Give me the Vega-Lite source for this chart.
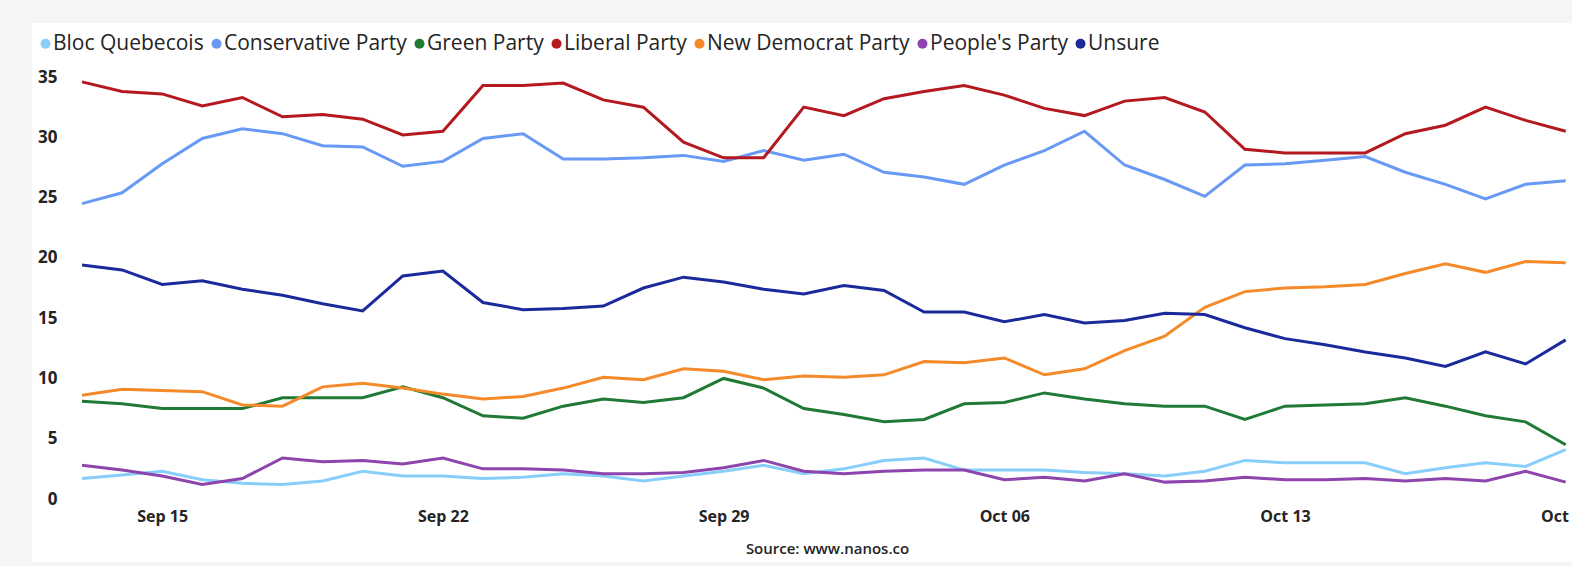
{
"$schema":"https://vega.github.io/schema/vega-lite/v6.json",
"width":1540,"height":539,
"autosize":{"type":"none"},
"padding":{"left":32,"top":23,"right":0,"bottom":4},
"background":"#f5f5f5",
"config":{"view":{"stroke":null,"fill":"#ffffff"},"font":"Open Sans"},
"data":{"format":{"parse":{"date":"utc:'%Y-%m-%d'"}},"values":[
{"date":"2019-09-13","party":"Bloc Quebecois","value":1.7},{"date":"2019-09-13","party":"Conservative Party","value":24.5},{"date":"2019-09-13","party":"Green Party","value":8.1},{"date":"2019-09-13","party":"Liberal Party","value":34.6},{"date":"2019-09-13","party":"New Democrat Party","value":8.6},{"date":"2019-09-13","party":"People's Party","value":2.8},{"date":"2019-09-13","party":"Unsure","value":19.4},
{"date":"2019-09-14","party":"Bloc Quebecois","value":2.0},{"date":"2019-09-14","party":"Conservative Party","value":25.4},{"date":"2019-09-14","party":"Green Party","value":7.9},{"date":"2019-09-14","party":"Liberal Party","value":33.8},{"date":"2019-09-14","party":"New Democrat Party","value":9.1},{"date":"2019-09-14","party":"People's Party","value":2.4},{"date":"2019-09-14","party":"Unsure","value":19.0},
{"date":"2019-09-15","party":"Bloc Quebecois","value":2.3},{"date":"2019-09-15","party":"Conservative Party","value":27.8},{"date":"2019-09-15","party":"Green Party","value":7.5},{"date":"2019-09-15","party":"Liberal Party","value":33.6},{"date":"2019-09-15","party":"New Democrat Party","value":9.0},{"date":"2019-09-15","party":"People's Party","value":1.9},{"date":"2019-09-15","party":"Unsure","value":17.8},
{"date":"2019-09-16","party":"Bloc Quebecois","value":1.6},{"date":"2019-09-16","party":"Conservative Party","value":29.9},{"date":"2019-09-16","party":"Green Party","value":7.5},{"date":"2019-09-16","party":"Liberal Party","value":32.6},{"date":"2019-09-16","party":"New Democrat Party","value":8.9},{"date":"2019-09-16","party":"People's Party","value":1.2},{"date":"2019-09-16","party":"Unsure","value":18.1},
{"date":"2019-09-17","party":"Bloc Quebecois","value":1.3},{"date":"2019-09-17","party":"Conservative Party","value":30.7},{"date":"2019-09-17","party":"Green Party","value":7.5},{"date":"2019-09-17","party":"Liberal Party","value":33.3},{"date":"2019-09-17","party":"New Democrat Party","value":7.8},{"date":"2019-09-17","party":"People's Party","value":1.7},{"date":"2019-09-17","party":"Unsure","value":17.4},
{"date":"2019-09-18","party":"Bloc Quebecois","value":1.2},{"date":"2019-09-18","party":"Conservative Party","value":30.3},{"date":"2019-09-18","party":"Green Party","value":8.4},{"date":"2019-09-18","party":"Liberal Party","value":31.7},{"date":"2019-09-18","party":"New Democrat Party","value":7.7},{"date":"2019-09-18","party":"People's Party","value":3.4},{"date":"2019-09-18","party":"Unsure","value":16.9},
{"date":"2019-09-19","party":"Bloc Quebecois","value":1.5},{"date":"2019-09-19","party":"Conservative Party","value":29.3},{"date":"2019-09-19","party":"Green Party","value":8.4},{"date":"2019-09-19","party":"Liberal Party","value":31.9},{"date":"2019-09-19","party":"New Democrat Party","value":9.3},{"date":"2019-09-19","party":"People's Party","value":3.1},{"date":"2019-09-19","party":"Unsure","value":16.2},
{"date":"2019-09-20","party":"Bloc Quebecois","value":2.3},{"date":"2019-09-20","party":"Conservative Party","value":29.2},{"date":"2019-09-20","party":"Green Party","value":8.4},{"date":"2019-09-20","party":"Liberal Party","value":31.5},{"date":"2019-09-20","party":"New Democrat Party","value":9.6},{"date":"2019-09-20","party":"People's Party","value":3.2},{"date":"2019-09-20","party":"Unsure","value":15.6},
{"date":"2019-09-21","party":"Bloc Quebecois","value":1.9},{"date":"2019-09-21","party":"Conservative Party","value":27.6},{"date":"2019-09-21","party":"Green Party","value":9.3},{"date":"2019-09-21","party":"Liberal Party","value":30.2},{"date":"2019-09-21","party":"New Democrat Party","value":9.2},{"date":"2019-09-21","party":"People's Party","value":2.9},{"date":"2019-09-21","party":"Unsure","value":18.5},
{"date":"2019-09-22","party":"Bloc Quebecois","value":1.9},{"date":"2019-09-22","party":"Conservative Party","value":28.0},{"date":"2019-09-22","party":"Green Party","value":8.4},{"date":"2019-09-22","party":"Liberal Party","value":30.5},{"date":"2019-09-22","party":"New Democrat Party","value":8.7},{"date":"2019-09-22","party":"People's Party","value":3.4},{"date":"2019-09-22","party":"Unsure","value":18.9},
{"date":"2019-09-23","party":"Bloc Quebecois","value":1.7},{"date":"2019-09-23","party":"Conservative Party","value":29.9},{"date":"2019-09-23","party":"Green Party","value":6.9},{"date":"2019-09-23","party":"Liberal Party","value":34.3},{"date":"2019-09-23","party":"New Democrat Party","value":8.3},{"date":"2019-09-23","party":"People's Party","value":2.5},{"date":"2019-09-23","party":"Unsure","value":16.3},
{"date":"2019-09-24","party":"Bloc Quebecois","value":1.8},{"date":"2019-09-24","party":"Conservative Party","value":30.3},{"date":"2019-09-24","party":"Green Party","value":6.7},{"date":"2019-09-24","party":"Liberal Party","value":34.3},{"date":"2019-09-24","party":"New Democrat Party","value":8.5},{"date":"2019-09-24","party":"People's Party","value":2.5},{"date":"2019-09-24","party":"Unsure","value":15.7},
{"date":"2019-09-25","party":"Bloc Quebecois","value":2.1},{"date":"2019-09-25","party":"Conservative Party","value":28.2},{"date":"2019-09-25","party":"Green Party","value":7.7},{"date":"2019-09-25","party":"Liberal Party","value":34.5},{"date":"2019-09-25","party":"New Democrat Party","value":9.2},{"date":"2019-09-25","party":"People's Party","value":2.4},{"date":"2019-09-25","party":"Unsure","value":15.8},
{"date":"2019-09-26","party":"Bloc Quebecois","value":1.9},{"date":"2019-09-26","party":"Conservative Party","value":28.2},{"date":"2019-09-26","party":"Green Party","value":8.3},{"date":"2019-09-26","party":"Liberal Party","value":33.1},{"date":"2019-09-26","party":"New Democrat Party","value":10.1},{"date":"2019-09-26","party":"People's Party","value":2.1},{"date":"2019-09-26","party":"Unsure","value":16.0},
{"date":"2019-09-27","party":"Bloc Quebecois","value":1.5},{"date":"2019-09-27","party":"Conservative Party","value":28.3},{"date":"2019-09-27","party":"Green Party","value":8.0},{"date":"2019-09-27","party":"Liberal Party","value":32.5},{"date":"2019-09-27","party":"New Democrat Party","value":9.9},{"date":"2019-09-27","party":"People's Party","value":2.1},{"date":"2019-09-27","party":"Unsure","value":17.5},
{"date":"2019-09-28","party":"Bloc Quebecois","value":1.9},{"date":"2019-09-28","party":"Conservative Party","value":28.5},{"date":"2019-09-28","party":"Green Party","value":8.4},{"date":"2019-09-28","party":"Liberal Party","value":29.6},{"date":"2019-09-28","party":"New Democrat Party","value":10.8},{"date":"2019-09-28","party":"People's Party","value":2.2},{"date":"2019-09-28","party":"Unsure","value":18.4},
{"date":"2019-09-29","party":"Bloc Quebecois","value":2.3},{"date":"2019-09-29","party":"Conservative Party","value":28.0},{"date":"2019-09-29","party":"Green Party","value":10.0},{"date":"2019-09-29","party":"Liberal Party","value":28.3},{"date":"2019-09-29","party":"New Democrat Party","value":10.6},{"date":"2019-09-29","party":"People's Party","value":2.6},{"date":"2019-09-29","party":"Unsure","value":18.0},
{"date":"2019-09-30","party":"Bloc Quebecois","value":2.8},{"date":"2019-09-30","party":"Conservative Party","value":28.9},{"date":"2019-09-30","party":"Green Party","value":9.2},{"date":"2019-09-30","party":"Liberal Party","value":28.3},{"date":"2019-09-30","party":"New Democrat Party","value":9.9},{"date":"2019-09-30","party":"People's Party","value":3.2},{"date":"2019-09-30","party":"Unsure","value":17.4},
{"date":"2019-10-01","party":"Bloc Quebecois","value":2.1},{"date":"2019-10-01","party":"Conservative Party","value":28.1},{"date":"2019-10-01","party":"Green Party","value":7.5},{"date":"2019-10-01","party":"Liberal Party","value":32.5},{"date":"2019-10-01","party":"New Democrat Party","value":10.2},{"date":"2019-10-01","party":"People's Party","value":2.3},{"date":"2019-10-01","party":"Unsure","value":17.0},
{"date":"2019-10-02","party":"Bloc Quebecois","value":2.5},{"date":"2019-10-02","party":"Conservative Party","value":28.6},{"date":"2019-10-02","party":"Green Party","value":7.0},{"date":"2019-10-02","party":"Liberal Party","value":31.8},{"date":"2019-10-02","party":"New Democrat Party","value":10.1},{"date":"2019-10-02","party":"People's Party","value":2.1},{"date":"2019-10-02","party":"Unsure","value":17.7},
{"date":"2019-10-03","party":"Bloc Quebecois","value":3.2},{"date":"2019-10-03","party":"Conservative Party","value":27.1},{"date":"2019-10-03","party":"Green Party","value":6.4},{"date":"2019-10-03","party":"Liberal Party","value":33.2},{"date":"2019-10-03","party":"New Democrat Party","value":10.3},{"date":"2019-10-03","party":"People's Party","value":2.3},{"date":"2019-10-03","party":"Unsure","value":17.3},
{"date":"2019-10-04","party":"Bloc Quebecois","value":3.4},{"date":"2019-10-04","party":"Conservative Party","value":26.7},{"date":"2019-10-04","party":"Green Party","value":6.6},{"date":"2019-10-04","party":"Liberal Party","value":33.8},{"date":"2019-10-04","party":"New Democrat Party","value":11.4},{"date":"2019-10-04","party":"People's Party","value":2.4},{"date":"2019-10-04","party":"Unsure","value":15.5},
{"date":"2019-10-05","party":"Bloc Quebecois","value":2.4},{"date":"2019-10-05","party":"Conservative Party","value":26.1},{"date":"2019-10-05","party":"Green Party","value":7.9},{"date":"2019-10-05","party":"Liberal Party","value":34.3},{"date":"2019-10-05","party":"New Democrat Party","value":11.3},{"date":"2019-10-05","party":"People's Party","value":2.4},{"date":"2019-10-05","party":"Unsure","value":15.5},
{"date":"2019-10-06","party":"Bloc Quebecois","value":2.4},{"date":"2019-10-06","party":"Conservative Party","value":27.7},{"date":"2019-10-06","party":"Green Party","value":8.0},{"date":"2019-10-06","party":"Liberal Party","value":33.5},{"date":"2019-10-06","party":"New Democrat Party","value":11.7},{"date":"2019-10-06","party":"People's Party","value":1.6},{"date":"2019-10-06","party":"Unsure","value":14.7},
{"date":"2019-10-07","party":"Bloc Quebecois","value":2.4},{"date":"2019-10-07","party":"Conservative Party","value":28.9},{"date":"2019-10-07","party":"Green Party","value":8.8},{"date":"2019-10-07","party":"Liberal Party","value":32.4},{"date":"2019-10-07","party":"New Democrat Party","value":10.3},{"date":"2019-10-07","party":"People's Party","value":1.8},{"date":"2019-10-07","party":"Unsure","value":15.3},
{"date":"2019-10-08","party":"Bloc Quebecois","value":2.2},{"date":"2019-10-08","party":"Conservative Party","value":30.5},{"date":"2019-10-08","party":"Green Party","value":8.3},{"date":"2019-10-08","party":"Liberal Party","value":31.8},{"date":"2019-10-08","party":"New Democrat Party","value":10.8},{"date":"2019-10-08","party":"People's Party","value":1.5},{"date":"2019-10-08","party":"Unsure","value":14.6},
{"date":"2019-10-09","party":"Bloc Quebecois","value":2.1},{"date":"2019-10-09","party":"Conservative Party","value":27.7},{"date":"2019-10-09","party":"Green Party","value":7.9},{"date":"2019-10-09","party":"Liberal Party","value":33.0},{"date":"2019-10-09","party":"New Democrat Party","value":12.3},{"date":"2019-10-09","party":"People's Party","value":2.1},{"date":"2019-10-09","party":"Unsure","value":14.8},
{"date":"2019-10-10","party":"Bloc Quebecois","value":1.9},{"date":"2019-10-10","party":"Conservative Party","value":26.5},{"date":"2019-10-10","party":"Green Party","value":7.7},{"date":"2019-10-10","party":"Liberal Party","value":33.3},{"date":"2019-10-10","party":"New Democrat Party","value":13.5},{"date":"2019-10-10","party":"People's Party","value":1.4},{"date":"2019-10-10","party":"Unsure","value":15.4},
{"date":"2019-10-11","party":"Bloc Quebecois","value":2.3},{"date":"2019-10-11","party":"Conservative Party","value":25.1},{"date":"2019-10-11","party":"Green Party","value":7.7},{"date":"2019-10-11","party":"Liberal Party","value":32.1},{"date":"2019-10-11","party":"New Democrat Party","value":15.9},{"date":"2019-10-11","party":"People's Party","value":1.5},{"date":"2019-10-11","party":"Unsure","value":15.3},
{"date":"2019-10-12","party":"Bloc Quebecois","value":3.2},{"date":"2019-10-12","party":"Conservative Party","value":27.7},{"date":"2019-10-12","party":"Green Party","value":6.6},{"date":"2019-10-12","party":"Liberal Party","value":29.0},{"date":"2019-10-12","party":"New Democrat Party","value":17.2},{"date":"2019-10-12","party":"People's Party","value":1.8},{"date":"2019-10-12","party":"Unsure","value":14.2},
{"date":"2019-10-13","party":"Bloc Quebecois","value":3.0},{"date":"2019-10-13","party":"Conservative Party","value":27.8},{"date":"2019-10-13","party":"Green Party","value":7.7},{"date":"2019-10-13","party":"Liberal Party","value":28.7},{"date":"2019-10-13","party":"New Democrat Party","value":17.5},{"date":"2019-10-13","party":"People's Party","value":1.6},{"date":"2019-10-13","party":"Unsure","value":13.3},
{"date":"2019-10-14","party":"Bloc Quebecois","value":3.0},{"date":"2019-10-14","party":"Conservative Party","value":28.1},{"date":"2019-10-14","party":"Green Party","value":7.8},{"date":"2019-10-14","party":"Liberal Party","value":28.7},{"date":"2019-10-14","party":"New Democrat Party","value":17.6},{"date":"2019-10-14","party":"People's Party","value":1.6},{"date":"2019-10-14","party":"Unsure","value":12.8},
{"date":"2019-10-15","party":"Bloc Quebecois","value":3.0},{"date":"2019-10-15","party":"Conservative Party","value":28.4},{"date":"2019-10-15","party":"Green Party","value":7.9},{"date":"2019-10-15","party":"Liberal Party","value":28.7},{"date":"2019-10-15","party":"New Democrat Party","value":17.8},{"date":"2019-10-15","party":"People's Party","value":1.7},{"date":"2019-10-15","party":"Unsure","value":12.2},
{"date":"2019-10-16","party":"Bloc Quebecois","value":2.1},{"date":"2019-10-16","party":"Conservative Party","value":27.1},{"date":"2019-10-16","party":"Green Party","value":8.4},{"date":"2019-10-16","party":"Liberal Party","value":30.3},{"date":"2019-10-16","party":"New Democrat Party","value":18.7},{"date":"2019-10-16","party":"People's Party","value":1.5},{"date":"2019-10-16","party":"Unsure","value":11.7},
{"date":"2019-10-17","party":"Bloc Quebecois","value":2.6},{"date":"2019-10-17","party":"Conservative Party","value":26.1},{"date":"2019-10-17","party":"Green Party","value":7.7},{"date":"2019-10-17","party":"Liberal Party","value":31.0},{"date":"2019-10-17","party":"New Democrat Party","value":19.5},{"date":"2019-10-17","party":"People's Party","value":1.7},{"date":"2019-10-17","party":"Unsure","value":11.0},
{"date":"2019-10-18","party":"Bloc Quebecois","value":3.0},{"date":"2019-10-18","party":"Conservative Party","value":24.9},{"date":"2019-10-18","party":"Green Party","value":6.9},{"date":"2019-10-18","party":"Liberal Party","value":32.5},{"date":"2019-10-18","party":"New Democrat Party","value":18.8},{"date":"2019-10-18","party":"People's Party","value":1.5},{"date":"2019-10-18","party":"Unsure","value":12.2},
{"date":"2019-10-19","party":"Bloc Quebecois","value":2.7},{"date":"2019-10-19","party":"Conservative Party","value":26.1},{"date":"2019-10-19","party":"Green Party","value":6.4},{"date":"2019-10-19","party":"Liberal Party","value":31.4},{"date":"2019-10-19","party":"New Democrat Party","value":19.7},{"date":"2019-10-19","party":"People's Party","value":2.3},{"date":"2019-10-19","party":"Unsure","value":11.2},
{"date":"2019-10-20","party":"Bloc Quebecois","value":4.1},{"date":"2019-10-20","party":"Conservative Party","value":26.4},{"date":"2019-10-20","party":"Green Party","value":4.5},{"date":"2019-10-20","party":"Liberal Party","value":30.5},{"date":"2019-10-20","party":"New Democrat Party","value":19.6},{"date":"2019-10-20","party":"People's Party","value":1.4},{"date":"2019-10-20","party":"Unsure","value":13.2}
]},
"mark":{"type":"line","strokeWidth":3},
"encoding":{
"x":{"field":"date","type":"temporal","scale":{"type":"utc","domain":[1568225100000,1571543160000]},
"axis":{"values":[{"year":2019,"month":9,"date":15,"utc":true},{"year":2019,"month":9,"date":22,"utc":true},{"year":2019,"month":9,"date":29,"utc":true},{"year":2019,"month":10,"date":6,"utc":true},{"year":2019,"month":10,"date":13,"utc":true},{"year":2019,"month":10,"date":20,"utc":true}],
"format":"%b %d","formatType":"utc","domain":false,"ticks":false,"grid":false,"offset":-54,"labelPadding":0,"labelBaseline":"top","labelFlush":false,"labelOverlap":false,"labelBound":false,
"labelFontSize":16,"labelFontWeight":"bold","labelColor":"#252423",
"title":"Source: www.nanos.co","titleFontSize":15,"titleFontWeight":600,"titleColor":"#252423","titleX":795,"titleY":45,"titleAlign":"center","titleBaseline":"alphabetic"}},
"y":{"field":"value","type":"quantitative","scale":{"domain":[-5.225,39.48],"nice":false,"zero":false},
"axis":{"values":[0,5,10,15,20,25,30,35],"domain":false,"ticks":false,"grid":false,"title":null,"offset":-27,"labelPadding":2,"labelFontSize":17,"labelFontWeight":"bold","labelColor":"#252423"}},
"color":{"field":"party","type":"nominal",
"scale":{"domain":["Bloc Quebecois","Conservative Party","Green Party","Liberal Party","New Democrat Party","People's Party","Unsure"],"range":["#87CEFA","#6799F5","#207A35","#B3191E","#F58A2A","#8E44AD","#1B2A9A"]},
"legend":{"orient":"none","legendX":3,"legendY":10,"direction":"horizontal","title":null,"symbolType":"circle","symbolSize":100,"symbolStrokeWidth":0,"symbolOpacity":1,"labelFontSize":21,"labelOffset":-3,"columnPadding":2,"padding":0,"labelColor":"#252423","labelLimit":400,
"encode":{"symbols":{"update":{"fill":{"scale":"color","field":"value"},"strokeWidth":{"value":0}}}}}}
}
}
